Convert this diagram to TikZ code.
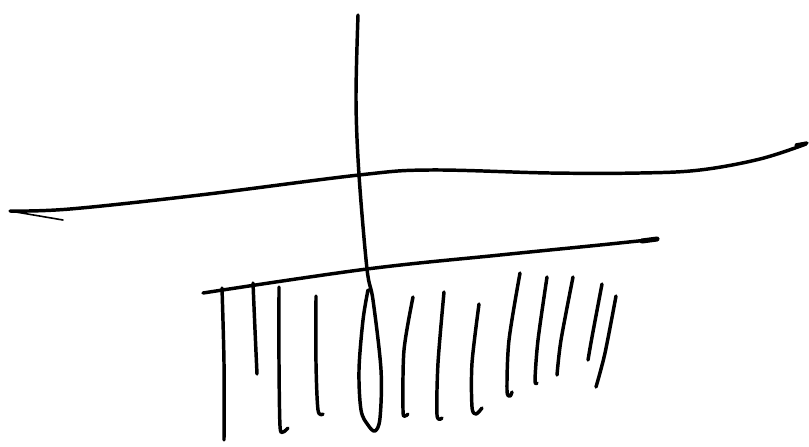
\documentclass[tikz,border=0pt]{standalone}
\begin{document}
\begin{tikzpicture}[x=0.75pt,y=-0.75pt,
  stroke/.style={line width=2.6pt,line cap=round,line join=round,black},
  thin stroke/.style={line width=1.2pt,line cap=round,black}]
\useasboundingbox (0,0) rectangle (809,446);
% long upper line with arrow hook at right
\draw[stroke] plot[smooth,tension=0.6] coordinates {(10,211) (70,209) (200,195) (359,175) (430,170) (550,173) (640,173) (700,170) (760,159) (806,144)};
\draw[stroke] (796,145) -- (807,143);
\draw[thin stroke] (10,211) -- (63,220);
% vertical line with loop at bottom
\draw[stroke] plot[smooth,tension=0.55] coordinates {(358,15) (356,100) (359,175) (367,269) (373,300) (381,370) (380,418) (375,431) (368,425) (361,410) (359,370) (363,320) (368,290)};
% lower line
\draw[stroke] plot[smooth,tension=0.6] coordinates {(203,293) (367,269) (500,255) (600,245) (657,239)};
\draw[line width=3.8pt,line cap=round] (642,241) -- (657,239);
% hatch strokes
\draw[stroke] plot[smooth] coordinates {(222,288) (224,363) (224,440)};
\draw[stroke] plot[smooth] coordinates {(253,283) (255,330) (257,374)};
\draw[stroke] plot[smooth] coordinates {(279,287) (279,363) (280,426) (283,432) (288,428)};
\draw[stroke] plot[smooth] coordinates {(316,296) (316,363) (318,410) (323,414)};
\draw[stroke] plot[smooth] coordinates {(413,297) (404,350) (403,410) (405,416) (408,414)};
\draw[stroke] plot[smooth] coordinates {(444,292) (438,363) (437,415) (442,418)};
\draw[stroke] plot[smooth] coordinates {(479,304) (472,363) (472,407) (476,414) (482,408)};
\draw[stroke] plot[smooth] coordinates {(520,273) (509,340) (507,390) (510,396) (512,392)};
\draw[stroke] plot[smooth] coordinates {(547,277) (538,340) (535,380) (537,383)};
\draw[stroke] plot[smooth] coordinates {(573,277) (561,340) (557,375)};
\draw[stroke] plot[smooth] coordinates {(602,284) (592,337) (588,360)};
\draw[stroke] plot[smooth] coordinates {(616,296) (605,353) (596,387)};
\end{tikzpicture}
\end{document}
